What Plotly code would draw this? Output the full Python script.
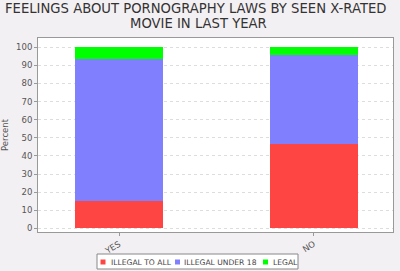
import plotly.graph_objects as go

categories = ["YES", "NO"]
illegal_to_all = [15.1, 46.7]
illegal_under_18 = [78.4, 48.9]
legal = [6.5, 4.4]
series_names = ["ILLEGAL TO ALL", "ILLEGAL UNDER 18", "LEGAL"]
colors = ["#FF4444", "#8080FF", "#00FF00"]
title_lines = ["FEELINGS ABOUT PORNOGRAPHY LAWS BY SEEN X-RATED", "MOVIE IN LAST YEAR"]

font = "DejaVu Sans"
fig = go.Figure()
for name, vals, c in zip(series_names, [illegal_to_all, illegal_under_18, legal], colors):
    fig.add_trace(go.Bar(x=[0, 1], y=vals, name=name, marker=dict(color=c, line=dict(width=0)),
                         width=0.452, showlegend=False))

# plot area pixel geometry: left 38, right 393, top 38, bottom 232
L, R, T, B = 38, 393, 38, 232
W, H = R - L, B - T
px = lambda x: (x - L) / W
py = lambda y: (B - y) / H

annotations = []
annotations.append(dict(text=title_lines[0], x=px(196), xref="paper", y=py(8.5), yref="paper",
                        xanchor="center", yanchor="middle", showarrow=False,
                        font=dict(family=font, size=13.2, color="#333333")))
annotations.append(dict(text=title_lines[1], x=px(198), xref="paper", y=py(23.5), yref="paper",
                        xanchor="center", yanchor="middle", showarrow=False,
                        font=dict(family=font, size=13.2, color="#333333")))

shapes = [dict(type="rect", xref="paper", yref="paper", x0=px(97), x1=px(298), y0=py(269), y1=py(254),
               fillcolor="#FFFFFF", line=dict(color="#888888", width=1), layer="above")]
sq_x = [100.5, 175, 263]
txt_x = [108.5, 182, 271]
for name, c, sx, tx in zip(series_names, colors, sq_x, txt_x):
    shapes.append(dict(type="rect", xref="paper", yref="paper", x0=px(sx), x1=px(sx + 5),
                       y0=py(264.5), y1=py(259.5), fillcolor=c, line=dict(width=0), layer="above"))
    annotations.append(dict(text=name, x=px(tx), xref="paper", y=py(262), yref="paper",
                            xanchor="left", yanchor="middle", showarrow=False,
                            font=dict(family=font, size=7.6, color="#444444")))

fig.update_layout(
    barmode="stack",
    width=400, height=271,
    margin=dict(l=L, r=400 - R, t=T, b=271 - B, autoexpand=False),
    paper_bgcolor="#F3F0F3",
    plot_bgcolor="#FFFFFF",
    font=dict(family=font),
    showlegend=False,
    bargap=0,
    annotations=annotations,
    shapes=shapes,
)
fig.update_xaxes(range=[-0.416, 1.407], tickmode="array", tickvals=[0, 1], ticktext=categories,
                 tickangle=-32, tickfont=dict(size=8.5, color="#555555"),
                 showgrid=False, showline=True, linecolor="#999999", linewidth=1, mirror=True,
                 ticks="outside", ticklen=3, tickcolor="#999999", zeroline=False, automargin=False)
fig.update_yaxes(range=[-2, 105.1], tickmode="linear", tick0=0, dtick=10,
                 tickfont=dict(size=8.5, color="#555555"),
                 title=dict(text="Percent", font=dict(size=8.5, color="#555555"), standoff=6),
                 showgrid=True, gridcolor="#DDDDDD", griddash="dot", gridwidth=1,
                 showline=True, linecolor="#999999", linewidth=1, mirror=True,
                 ticks="outside", ticklen=3, tickcolor="#999999", zeroline=False, automargin=False)

fig.write_html("out.html")
